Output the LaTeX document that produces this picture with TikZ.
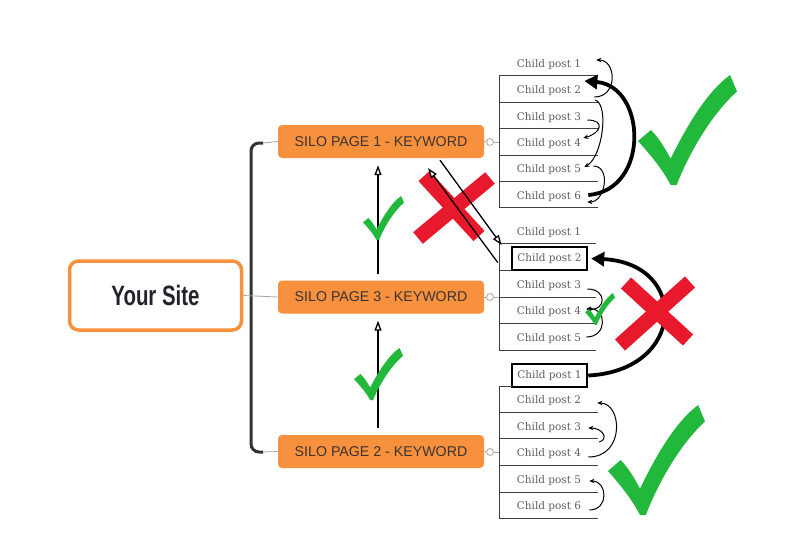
\documentclass[tikz,border=0pt]{standalone}
\usepackage{fontspec}
\usetikzlibrary{arrows.meta}
\newfontfamily\silofont{Liberation Sans}
\newfontfamily\cpfont{DejaVu Serif}
\definecolor{orng}{RGB}{247,145,61}
\definecolor{gr}{RGB}{34,184,59}
\definecolor{rd}{RGB}{232,25,44}
\definecolor{cptext}{RGB}{95,95,95}
\definecolor{silotext}{RGB}{60,50,48}
\definecolor{sitetext}{RGB}{38,32,45}
\newcommand{\gcheck}[4]{\begin{scope}[shift={(#1,#2)},xscale=#3,yscale=#4]
\fill[gr] (0,60) -- (13,50) .. controls (22,58) and (28,68) .. (33,76) .. controls (50,45) and (70,15) .. (93,0) -- (100,15) .. controls (75,35) and (52,70) .. (39,100) -- (33,100) .. controls (25,86) and (12,72) .. (0,60) -- cycle;
\end{scope}}
\tikzset{
  sitebox/.style={draw=orng,line width=3.5pt,rounded corners=9pt,minimum width=172pt,minimum height=69pt,inner sep=0pt,text=sitetext},
  silobox/.style={fill=orng,rounded corners=4pt,minimum width=206pt,minimum height=33pt,inner sep=0pt,font=\silofont\fontsize{14.2}{16}\selectfont,text=silotext},
  cp/.style={font=\cpfont\fontsize{10.5}{12}\selectfont,text=cptext,inner sep=1pt},
  cpbox/.style={cp,draw=black,line width=2.5pt,minimum width=75pt,minimum height=23pt},
  uline/.style={draw=black!75,line width=0.9pt},
  thinarr/.style={draw=black,line width=1pt,-{Stealth[length=5pt,width=4.5pt]}},
  thickarr/.style={draw=black,line width=3.8pt,-{Triangle[length=13pt,width=14pt]}},
  openarr/.style={draw=black,line width=1.3pt,-{Triangle[open,length=10pt,width=7pt,fill=white]}},
  redx/.style={draw=rd,line width=15pt},
  conn/.style={draw=black!35,line width=0.8pt},
}
\begin{document}
\begin{tikzpicture}[x=1pt,y=-1pt]
\useasboundingbox (0,0) rectangle (808,557);
\fill[white] (0,0) rectangle (808,557);

% main nodes
\node[sitebox] (site) at (155.5,295.5) {\bfseries\fontsize{28}{30}\silofont\selectfont\scalebox{0.73}[1]{Your Site}};
\node[silobox] (silo1) at (381,141.5) {SILO PAGE 1 - KEYWORD};
\node[silobox] (silo3) at (381,297) {SILO PAGE 3 - KEYWORD};
\node[silobox] (silo2) at (381,451.5) {SILO PAGE 2 - KEYWORD};

% bracket
\draw[black!80,line width=3pt,rounded corners=8pt] (263,143) -- (251,143) -- (251,452) -- (263,452);
\draw[conn] (263,143) -- (silo1.west);
\draw[conn] (263,452) -- (silo2.west);
\draw[conn] (site.east) -- (silo3.west);

% small connectors to lists
\foreach \s/\y in {silo1/142,silo3/297,silo2/452}{
  \draw[conn] (\s.east) -- (486.5,\y);
  \draw[black!35,line width=0.8pt] (490,\y) circle (3.5pt);
  \draw[conn] (493.5,\y) -- (499,\y);
}

% group 1
\node[cp] (g1c1) at (549,65) {Child post 1};
\node[cp] (g1c2) at (549,91) {Child post 2};
\node[cp] (g1c3) at (549,118) {Child post 3};
\node[cp] (g1c4) at (549,144) {Child post 4};
\node[cp] (g1c5) at (549,170) {Child post 5};
\node[cp] (g1c6) at (549,197) {Child post 6};
\foreach \y in {75,102,128,155,181,207}{\draw[uline] (499,\y) -- (598,\y);}
\draw[uline] (499,75) -- (499,207);

% group 2
\node[cp] (g2c1) at (549,233) {Child post 1};
\node[cpbox] (g2c2) at (549.5,258.5) {Child post 2};
\node[cp] (g2c3) at (549,286) {Child post 3};
\node[cp] (g2c4) at (549,312) {Child post 4};
\node[cp] (g2c5) at (549,339) {Child post 5};
\foreach \y in {243,297,323,350}{\draw[uline] (499,\y) -- (596,\y);}
\draw[uline] (499,270) -- (512,270);
\draw[uline] (499,243) -- (499,350);

% group 3
\node[cpbox] (g3c1) at (549.5,375.5) {Child post 1};
\node[cp] (g3c2) at (549,401) {Child post 2};
\node[cp] (g3c3) at (549,428) {Child post 3};
\node[cp] (g3c4) at (549,454) {Child post 4};
\node[cp] (g3c5) at (549,481) {Child post 5};
\node[cp] (g3c6) at (549,507) {Child post 6};
\foreach \y in {412,438,465,492,518}{\draw[uline] (499,\y) -- (598,\y);}
\draw[uline] (499,386) -- (512,386);
\draw[uline] (499,386) -- (499,518);

% group 1 thin arrows
\draw[thinarr] ([xshift=12pt,yshift=-6pt]g1c2.east) .. controls +(24,0) and +(20,0) .. ([xshift=14pt,yshift=5pt]g1c1.east);
\draw[thinarr] ([xshift=5pt,yshift=-2pt]g1c3.east) .. controls +(18,0) and +(18,-5) .. ([xshift=1pt,yshift=6pt]g1c4.east);
\draw[thinarr] ([xshift=13pt,yshift=-9pt]g1c2.east) .. controls +(14,5) and +(18,-10) .. ([xshift=2pt,yshift=3pt]g1c5.east);
\draw[thinarr] ([xshift=11pt,yshift=4pt]g1c5.east) .. controls +(18,0) and +(18,0) .. ([xshift=5pt,yshift=-5pt]g1c6.east);
\draw[thickarr] ([xshift=6pt,yshift=2pt]g1c6.east) .. controls +(62,-5) and +(62,5) .. ([xshift=2pt,yshift=10pt]g1c2.east);

% group 2 thin arrows
\draw[thinarr] ([xshift=5pt,yshift=-3pt]g2c3.east) .. controls +(20,0) and +(20,2) .. ([xshift=4pt,yshift=3pt]g2c4.east);
\draw[thinarr] ([xshift=4pt,yshift=2pt]g2c5.east) .. controls +(22,0) and +(20,-2) .. ([xshift=4pt,yshift=3pt]g2c4.east);

% group 3 thin arrows
\draw[thinarr] ([xshift=6pt,yshift=-3pt]g3c4.east) .. controls +(37,0) and +(25,0) .. ([xshift=15pt,yshift=-2pt]g3c2.east);
\draw[thinarr] ([xshift=17pt,yshift=-14pt]g3c3.east) .. controls +(10,-3) and +(14,0) .. ([xshift=6pt]g3c3.east);
\draw[thinarr] ([xshift=7pt,yshift=-3pt]g3c6.east) .. controls +(20,0) and +(18,0) .. ([xshift=7pt]g3c5.east);

% group 2 thick arc
\draw[thickarr] (g3c1.east) .. controls +(98,-5) and +(98,5) .. ([xshift=3pt]g2c2.east);

% red X marks
\draw[redx] (424,176) -- (479,236);
\draw[redx] (490,178) -- (418,238);
\draw[redx] (626,283) -- (688,340);
\draw[redx] (690,282) -- (620,345);

% vertical arrows
\draw[openarr,shorten <=6pt,shorten >=7pt] ([xshift=-3pt]silo3.north) -- ([xshift=-3pt]silo1.south);
\draw[openarr,shorten <=7pt,shorten >=7pt] ([xshift=-3pt]silo2.north) -- ([xshift=-3pt]silo3.south);

% diagonal arrows
\draw[openarr] ([xshift=59pt,yshift=-2pt]silo1.south) -- ([xshift=-14pt,yshift=-12pt]g2c1.west);
\draw[openarr] ([xshift=-13pt,yshift=-4pt]g2c2.west) -- ([xshift=47pt,yshift=-10pt]silo1.south);

% green checks
\gcheck{638}{75}{0.99}{1.1}
\gcheck{608}{405}{0.97}{1.1}
\gcheck{363}{196}{0.41}{0.44}
\gcheck{354}{348}{0.49}{0.52}
\gcheck{585}{293}{0.3}{0.32}
\end{tikzpicture}
\end{document}
